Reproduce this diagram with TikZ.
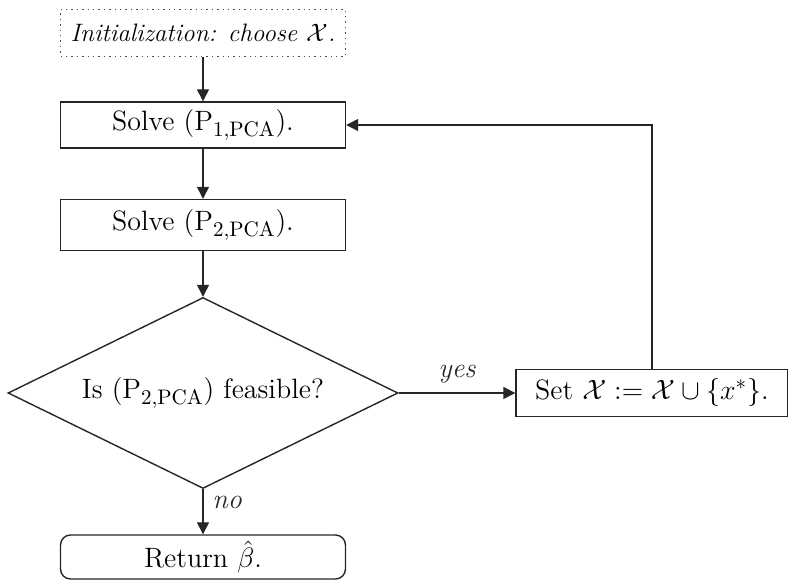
\documentclass[tikz,border=0pt]{standalone}
\usepackage{fix-cm}
\usepackage{amsmath,amssymb}
\usepackage{fontspec}
\usetikzlibrary{positioning, arrows.meta, shapes.geometric}
\DeclareMathSizes{14}{14}{10.5}{8}

\begin{document}
\begin{tikzpicture}[
    x=0.5pt, y=-0.5pt,
    font=\fontsize{14}{16}\selectfont,
    >={Triangle[length=6pt, width=6pt]},
    stepbox/.style={draw=black!85, line width=0.7pt, minimum width=142.5pt, minimum height=23pt, inner sep=2pt},
    decision/.style={diamond, aspect=2.07, draw=black!85, line width=0.7pt, minimum width=195pt, minimum height=95.5pt, inner sep=0pt},
    arrow/.style={->, line width=0.7pt, black!85},
    label/.style={font=\fontsize{14}{16}\selectfont\itshape},
]
\useasboundingbox (0,0) rectangle (788,581);

% ===== 主流程 =====
\node[stepbox, draw=black!70, dotted, minimum height=23.5pt, font=\fontsize{12.6}{15}\selectfont] (init) at (203,33) {\itshape Initialization: choose $\mathcal{X}$.};
\node[stepbox] (solve1) at (203,125) {Solve $(\mathrm{P}_{1,\mathrm{PCA}})$.};
\node[stepbox, minimum height=25.5pt] (solve2) at (203,225) {Solve $(\mathrm{P}_{2,\mathrm{PCA}})$.};
\node[decision] (feasible) at (203,393) {Is $(\mathrm{P}_{2,\mathrm{PCA}})$ feasible?};
\node[stepbox, rounded corners=5pt, minimum height=22pt] (result) at (203,557) {Return $\hat{\beta}$.};

% ===== 更新集合 =====
\node[stepbox, minimum width=136pt, minimum height=23.5pt] (update) at (652,393) {Set $\mathcal{X} := \mathcal{X} \cup \{x^{*}\}$.};

% 箭头
\draw[arrow] (init.south) -- (solve1.north);
\draw[arrow] (solve1.south) -- (solve2.north);
\draw[arrow] (solve2.south) -- (feasible.north);
\draw[arrow] (feasible.east) -- node[label, above=1pt] {yes} (update.west);
\draw[arrow] (feasible.south) -- node[label, right=1pt, pos=0.3] {no} (result.north);
\draw[arrow] (update.north) |- (solve1.east);

\end{tikzpicture}
\end{document}
